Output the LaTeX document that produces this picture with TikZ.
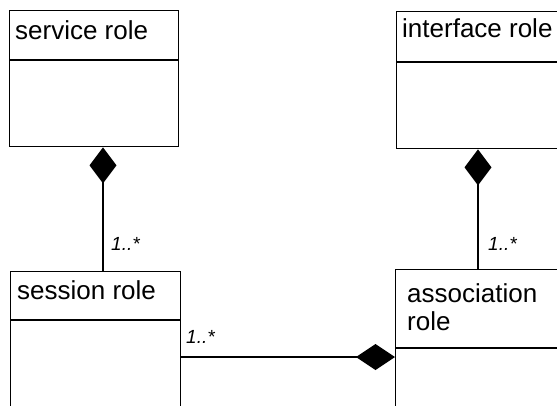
\documentclass[tikz,border=0pt]{standalone}
\usepackage{fontspec}
\setmainfont{Liberation Sans}
\usetikzlibrary{arrows.meta,calc}
\begin{document}
\begin{tikzpicture}[x=1pt,y=-1pt,
  classbox/.style 2 args={draw,line width=1.4pt,anchor=north west,inner sep=0pt,
    minimum width=#1,minimum height=#2},
  classname/.style={anchor=base west,inner sep=0pt,font=\fontsize{26}{28}\selectfont},
  mult/.style={anchor=base west,inner sep=0pt,font=\fontsize{19}{21}\selectfont\itshape},
  comp/.style={line width=1.4pt,-{Diamond[length=36pt,width=27pt]}}]
  \useasboundingbox (0,0) rectangle (557,405);
  \clip (0,0) rectangle (557,405);

  % class boxes
  \node[classbox={169}{136}] (service) at (9,10) {};
  \node[classbox={200}{137}] (interface) at (396,11) {};
  \node[classbox={170}{200}] (session) at (10,271) {};
  \node[classbox={200}{200}] (association) at (395,269) {};

  % name compartments
  \draw[line width=1.4pt] ($(service.north west)+(0,50)$) -- ($(service.north east)+(0,50)$);
  \draw[line width=1.4pt] ($(interface.north west)+(0,51)$) -- ($(interface.north east)+(0,51)$);
  \draw[line width=1.4pt] ($(session.north west)+(0,49)$) -- ($(session.north east)+(0,49)$);
  \draw[line width=1.4pt] ($(association.north west)+(0,79)$) -- ($(association.north east)+(0,79)$);

  % class names
  \node[classname] (servicename) at ($(service.north west)+(6,29)$) {service role};
  \node[classname] (interfacename) at ($(interface.north west)+(6,26)$) {interface role};
  \node[classname] (sessionname) at ($(session.north west)+(7,28)$) {session role};
  \node[classname] (assocname1) at ($(association.north west)+(12,33)$) {association};
  \node[classname] (assocname2) at ($(association.north west)+(12,61)$) {role};

  % composition connectors
  \coordinate (s1) at ($(session.north west)+(93,0)$);
  \coordinate (s2) at ($(service.south west)+(94,0)$);
  \draw[comp] (s1) -- (s2);
  \coordinate (a1) at ($(association.north west)+(83,0)$);
  \coordinate (a2) at ($(interface.south west)+(82,0)$);
  \draw[comp] (a1) -- (a2);
  \coordinate (h1) at ($(session.north east)+(0,86)$);
  \coordinate (h2) at ($(association.north west)+(0,88)$);
  \draw[comp,-{Diamond[length=39pt,width=26pt]}] (h1) -- (h2);

  % multiplicities
  \node[mult] (m1) at (111,250) {1..*};
  \node[mult] (m2) at (186,343) {1..*};
  \node[mult] (m3) at (488,250) {1..*};
\end{tikzpicture}
\end{document}
